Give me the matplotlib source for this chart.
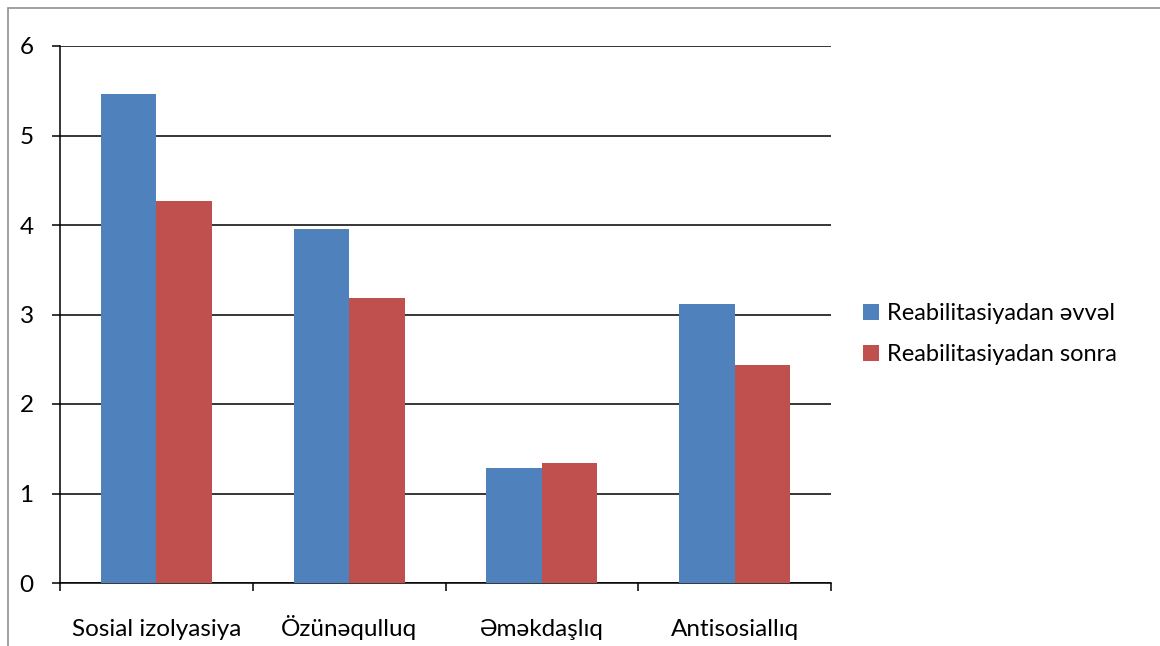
import matplotlib
matplotlib.use("Agg")
import matplotlib.pyplot as plt
from matplotlib.patches import Rectangle
import numpy as np

plt.rcParams['font.family'] = ['Lato', 'DejaVu Sans']

categories = ['Sosial izolyasiya', 'Özünəqulluq', 'Əməkdaşlıq', 'Antisosiallıq']
before = [5.46, 3.96, 1.28, 3.12]
after = [4.27, 3.18, 1.34, 2.44]
series_names = ['Reabilitasiyadan əvvəl', 'Reabilitasiyadan sonra']
colors = ['#4F81BD', '#C0504D']

fig = plt.figure(figsize=(11.6, 6.46), dpi=100)
ax = fig.add_axes([60 / 1160, 1 - 583 / 646, 771 / 1160, 537 / 646])

x = np.arange(len(categories))
w = 0.288
ax.bar(x - w / 2, before, w, color=colors[0], label=series_names[0], zorder=3)
ax.bar(x + w / 2, after, w, color=colors[1], label=series_names[1], zorder=3)

ax.set_xlim(-0.5, len(categories) - 0.5)
ax.set_ylim(0, 6)
ax.set_yticks(range(0, 7))
ax.yaxis.grid(True, color='black', linewidth=1.1, zorder=0)

# category labels centred, ticks on the boundaries between groups
ax.set_xticks(x)
ax.set_xticklabels(categories)
ax.set_xticks(np.arange(-0.5, len(categories)), minor=True)
ax.tick_params(axis='x', which='major', length=0, pad=38, labelsize=17.5)
ax.tick_params(axis='x', which='minor', length=6, width=1.1, direction='out')
ax.tick_params(axis='y', length=6, width=1.1, pad=13, labelsize=17.5)
for lab in ax.get_xticklabels():
    lab.set_verticalalignment('baseline')

for side in ['top', 'right']:
    ax.spines[side].set_visible(False)
for side in ['left', 'bottom']:
    ax.spines[side].set_linewidth(1.1)

fig.legend(loc='center left', bbox_to_anchor=(0.726, 0.483), frameon=False,
           fontsize=17, handlelength=0.65, handleheight=0.65,
           handletextpad=0.35, labelspacing=0.85)

# outer chart frame
fig.patches.append(Rectangle((8 / 1160, -0.1), 1.2, 1.1 - 8 / 646,
                             transform=fig.transFigure, fill=False,
                             edgecolor='#999999', linewidth=1.3))

fig.savefig('out.png', dpi=100)
